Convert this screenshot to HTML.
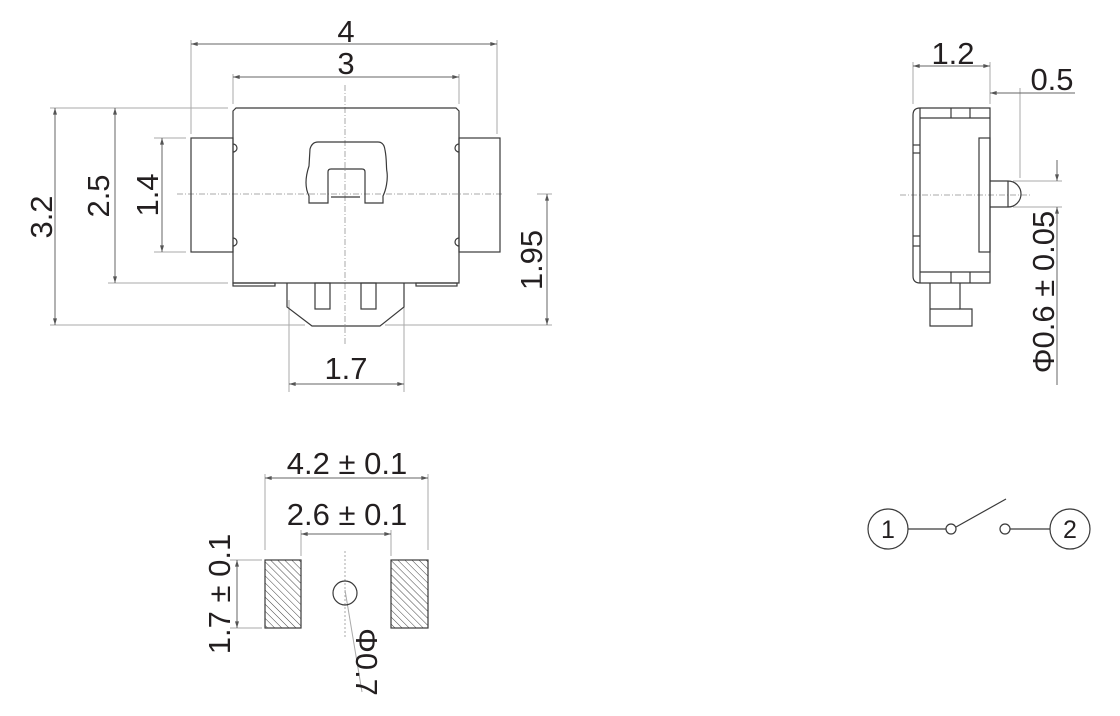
<!DOCTYPE html>
<html><head><meta charset="utf-8"><style>
html,body{margin:0;padding:0;background:#fff;width:1120px;height:716px;overflow:hidden}
svg{display:block}
text{font-family:"Liberation Sans",Arial,sans-serif;fill:#231f20}
</style></head><body>
<svg width="1120" height="716" viewBox="0 0 1120 716" xmlns="http://www.w3.org/2000/svg">
<defs>
<pattern id="h" patternUnits="userSpaceOnUse" width="5" height="5" patternTransform="rotate(-45)">
<line x1="0" y1="0" x2="0" y2="5" stroke="#444" stroke-width="1"/></pattern>
<marker id="a" viewBox="0 0 10 6" refX="10" refY="3" markerWidth="7" markerHeight="4" orient="auto-start-reverse"><path d="M0,0L10,3L0,6z" fill="#555"/></marker>
</defs>
<g fill="none" stroke="#aaa" stroke-width="1">
<line x1="191" y1="40" x2="191" y2="134"/><line x1="497" y1="40" x2="497" y2="134"/>
<line x1="233" y1="74" x2="233" y2="104"/><line x1="459" y1="74" x2="459" y2="104"/>
<line x1="50" y1="108" x2="228" y2="108"/>
<line x1="108" y1="283" x2="228" y2="283"/>
<line x1="154" y1="138" x2="186" y2="138"/><line x1="154" y1="252" x2="186" y2="252"/>
<line x1="50" y1="325" x2="305" y2="325"/><line x1="385" y1="325" x2="552" y2="325"/>
<line x1="537" y1="194" x2="552" y2="194"/>
<line x1="289" y1="300" x2="289" y2="392"/><line x1="404" y1="300" x2="404" y2="392"/>
</g>
<g stroke="#666" stroke-width="1" fill="none">
<line x1="191" y1="44" x2="497" y2="44" marker-start="url(#a)" marker-end="url(#a)"/>
<line x1="233" y1="77" x2="459" y2="77" marker-start="url(#a)" marker-end="url(#a)"/>
<line x1="55" y1="108" x2="55" y2="325" marker-start="url(#a)" marker-end="url(#a)"/>
<line x1="115" y1="108" x2="115" y2="283" marker-start="url(#a)" marker-end="url(#a)"/>
<line x1="162" y1="138" x2="162" y2="252" marker-start="url(#a)" marker-end="url(#a)"/>
<line x1="547" y1="194" x2="547" y2="325" marker-start="url(#a)" marker-end="url(#a)"/>
<line x1="289" y1="384" x2="404" y2="384" marker-start="url(#a)" marker-end="url(#a)"/>
</g>
<g stroke="#aaa" stroke-width="1" stroke-dasharray="6,2,1,2" fill="none">
<line x1="345" y1="85" x2="345" y2="345"/>
<line x1="177" y1="194" x2="504" y2="194"/>
</g>
<g fill="none" stroke="#3a3a3a" stroke-width="1.2">
<path d="M233,111 L236,108 L456,108 L459,111 L459,283 L233,283 Z"/>
<rect x="191" y="138" width="42" height="114"/>
<rect x="459" y="138" width="41" height="114"/>
<path d="M233,144 a4,4 0 0 1 0,8 M233,238 a4,4 0 0 1 0,8 M459,144 a4,4 0 0 0 0,8 M459,238 a4,4 0 0 0 0,8"/>
<path d="M309,203 L309,196 C304,186 306,175 309,166 L310,149 Q312,142 318,142 L378,142 Q384,142 385,150 C387,160 386,168 387,172 C388,180 386,190 383,196 L383,203 L365,203 L365,172 Q365,169 362,169 L331,169 Q328,169 328,172 L328,203 Z"/>
<line x1="331" y1="197" x2="360" y2="197"/>
<rect x="233" y="283" width="42" height="3"/>
<rect x="416" y="283" width="41" height="3"/>
<path d="M287,283 L287,307 L312,326 L380,326 L404,307 L404,283"/>
<rect x="315" y="283" width="15" height="26"/>
<rect x="361" y="283" width="15" height="26"/>
</g>
<g font-size="31" text-anchor="middle">
<text x="346" y="42">4</text>
<text x="346" y="74">3</text>
<text x="346" y="379">1.7</text>
<text transform="translate(52,217) rotate(-90)">3.2</text>
<text transform="translate(109,196) rotate(-90)">2.5</text>
<text transform="translate(158,195) rotate(-90)">1.4</text>
<text transform="translate(542,260) rotate(-90)">1.95</text>
</g>
<g fill="none" stroke="#aaa" stroke-width="1">
<line x1="913" y1="62" x2="913" y2="104"/><line x1="990" y1="62" x2="990" y2="104"/>
<line x1="1020" y1="88" x2="1020" y2="178"/>
<line x1="1013" y1="181" x2="1062" y2="181"/><line x1="1013" y1="207" x2="1062" y2="207"/>
<line x1="1057" y1="160" x2="1057" y2="181"/>
</g>
<g stroke="#666" stroke-width="1" fill="none">
<line x1="913" y1="66" x2="990" y2="66" marker-start="url(#a)" marker-end="url(#a)"/>
<line x1="990" y1="93" x2="1075" y2="93" marker-start="url(#a)"/>
<line x1="1057" y1="207" x2="1057" y2="385" marker-start="url(#a)"/>
<line x1="1057" y1="160" x2="1057" y2="181" marker-end="url(#a)"/>
</g>
<line x1="900" y1="195" x2="1030" y2="195" stroke="#aaa" stroke-dasharray="6,2,1,2"/>
<g fill="none" stroke="#3a3a3a" stroke-width="1.2">
<path d="M920,108 L990,108 L990,283 L920,283 Q913,283 913,276 L913,115 Q913,108 920,108 Z"/>
<line x1="920" y1="108" x2="920" y2="283"/>
<line x1="920" y1="118" x2="990" y2="118"/><line x1="920" y1="272" x2="990" y2="272"/>
<line x1="951" y1="108" x2="951" y2="118"/><line x1="970" y1="108" x2="970" y2="118"/>
<line x1="951" y1="272" x2="951" y2="283"/><line x1="970" y1="272" x2="970" y2="283"/>
<line x1="913" y1="145" x2="920" y2="145"/><line x1="913" y1="153" x2="920" y2="153"/>
<line x1="913" y1="236" x2="920" y2="236"/><line x1="913" y1="246" x2="920" y2="246"/>
<rect x="979" y="138" width="11" height="114"/>
<path d="M990,181 L1008,181 A13,13 0 0 1 1008,207 L990,207"/>
<line x1="1008" y1="181" x2="1008" y2="207"/>
<path d="M930,283 L930,309 L930,326 L972,326 L972,309 L960,309 L960,283"/>
<line x1="930" y1="309" x2="960" y2="309"/>
</g>
<g font-size="31" text-anchor="middle">
<text x="953" y="64">1.2</text>
<text x="1052" y="90">0.5</text>
<text transform="translate(1054,292) rotate(-90)">Φ0.6 ± 0.05</text>
</g>
<g fill="none" stroke="#aaa" stroke-width="1">
<line x1="265" y1="474" x2="265" y2="550"/><line x1="428" y1="474" x2="428" y2="550"/>
<line x1="301" y1="530" x2="301" y2="556"/><line x1="391" y1="530" x2="391" y2="556"/>
<line x1="230" y1="560" x2="262" y2="560"/><line x1="230" y1="628" x2="262" y2="628"/>
<line x1="345" y1="551" x2="345" y2="637" stroke-dasharray="2,2"/>
<line x1="345" y1="590" x2="362" y2="692"/>
</g>
<g stroke="#666" stroke-width="1" fill="none">
<line x1="265" y1="478" x2="428" y2="478" marker-start="url(#a)" marker-end="url(#a)"/>
<line x1="301" y1="534" x2="391" y2="534" marker-start="url(#a)" marker-end="url(#a)"/>
<line x1="237" y1="560" x2="237" y2="628" marker-start="url(#a)" marker-end="url(#a)"/>
</g>
<rect x="265" y="560" width="36" height="68" fill="url(#h)" stroke="#3a3a3a" stroke-width="1.2"/>
<rect x="391" y="560" width="37" height="68" fill="url(#h)" stroke="#3a3a3a" stroke-width="1.2"/>
<circle cx="345" cy="593" r="12" fill="none" stroke="#3a3a3a" stroke-width="1.2"/>
<g font-size="31" text-anchor="middle">
<text x="347" y="474">4.2 ± 0.1</text>
<text x="347" y="525">2.6 ± 0.1</text>
<text transform="translate(230,594) rotate(-90)">1.7 ± 0.1</text>
<text transform="translate(356,662) rotate(90)">Φ0.7</text>
</g>
<g fill="none" stroke="#3a3a3a" stroke-width="1.2">
<circle cx="888" cy="529" r="20"/>
<line x1="908" y1="529" x2="946" y2="529"/>
<circle cx="951" cy="529" r="5"/>
<line x1="956" y1="527" x2="1006" y2="499"/>
<circle cx="1005" cy="529" r="5"/>
<line x1="1010" y1="529" x2="1050" y2="529"/>
<circle cx="1070" cy="529" r="20"/>
</g>
<g font-size="25" text-anchor="middle">
<text x="888" y="538">1</text>
<text x="1070" y="538">2</text>
</g>
</svg>
</body></html>
